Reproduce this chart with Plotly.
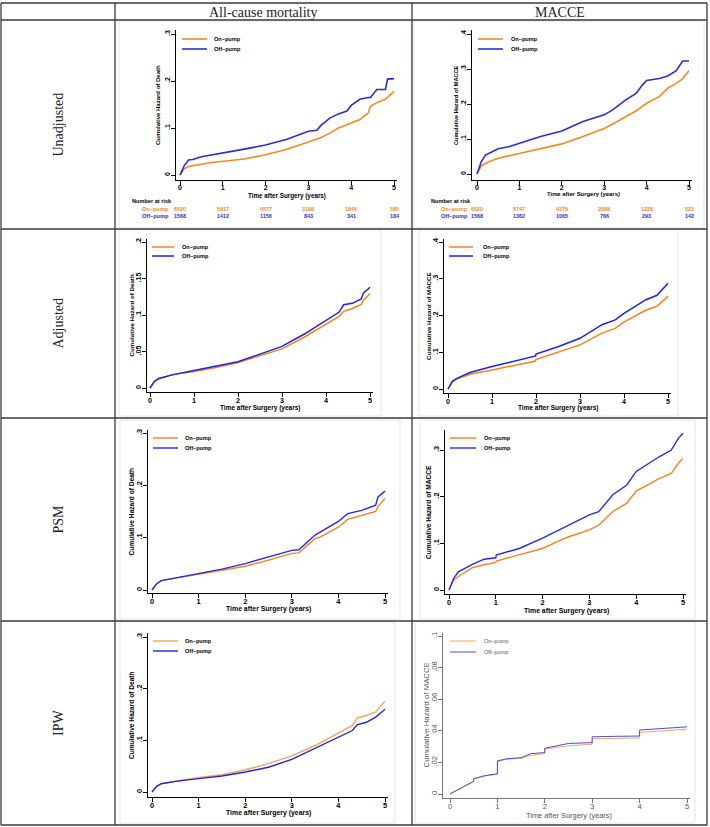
import plotly.graph_objects as go

W, H = 710, 827

# ---------------- data ----------------
row_labels = ["Unadjusted", "Adjusted", "PSM", "IPW"]
col_labels = ["All-cause mortality", "MACCE"]
series_names = ["On–pump", "Off–pump"]

# Unadjusted, all-cause mortality
mort_unadj_t = [0, 0.05, 0.1, 0.2, 0.3, 0.5, 0.7, 1, 1.5, 2, 2.3, 2.5, 3, 3.2, 3.3, 3.5, 3.7, 3.9, 4, 4.2, 4.4, 4.45, 4.6, 4.8, 4.85, 5]
mort_unadj_on = [0, 0.008, 0.013, 0.018, 0.020, 0.023, 0.026, 0.029, 0.034, 0.043, 0.050, 0.055, 0.070, 0.076, 0.080, 0.089, 0.100, 0.107, 0.111, 0.118, 0.132, 0.146, 0.154, 0.161, 0.165, 0.178]
mort_unadj_off = [0, 0.012, 0.020, 0.032, 0.033, 0.039, 0.042, 0.048, 0.055, 0.064, 0.072, 0.076, 0.093, 0.095, 0.106, 0.121, 0.130, 0.136, 0.148, 0.161, 0.165, 0.165, 0.182, 0.182, 0.204, 0.205]

# Unadjusted, MACCE
macce_unadj_t = [0, 0.1, 0.2, 0.3, 0.5, 0.75, 1, 1.5, 2, 2.5, 3, 3.2, 3.5, 3.75, 3.9, 4, 4.3, 4.5, 4.7, 4.85, 4.9, 5]
macce_unadj_on = [0, 0.023, 0.030, 0.036, 0.045, 0.052, 0.059, 0.071, 0.086, 0.107, 0.130, 0.143, 0.164, 0.180, 0.193, 0.202, 0.221, 0.245, 0.259, 0.272, 0.280, 0.295]
macce_unadj_off = [0, 0.035, 0.054, 0.060, 0.072, 0.078, 0.088, 0.107, 0.123, 0.150, 0.169, 0.183, 0.211, 0.230, 0.254, 0.267, 0.273, 0.280, 0.295, 0.323, 0.323, 0.323]

# Adjusted, all-cause mortality
mort_adj_t = [0, 0.05, 0.1, 0.2, 0.5, 1, 1.5, 2, 2.5, 3, 3.5, 4, 4.3, 4.4, 4.6, 4.8, 4.85, 5]
mort_adj_on = [0, 0.005, 0.009, 0.0127, 0.018, 0.0227, 0.028, 0.035, 0.0445, 0.0536, 0.0695, 0.0877, 0.098, 0.105, 0.109, 0.1145, 0.120, 0.1295]
mort_adj_off = [0, 0.005, 0.009, 0.013, 0.018, 0.024, 0.0295, 0.036, 0.0464, 0.057, 0.0736, 0.093, 0.104, 0.114, 0.116, 0.122, 0.130, 0.138]

# Adjusted, MACCE
macce_adj_t = [0, 0.1, 0.2, 0.5, 1, 1.5, 1.99, 2, 2.5, 3, 3.5, 3.8, 4, 4.5, 4.75, 5]
macce_adj_on = [0, 0.020, 0.027, 0.040, 0.052, 0.065, 0.076, 0.080, 0.100, 0.120, 0.152, 0.165, 0.182, 0.215, 0.225, 0.252]
macce_adj_off = [0, 0.021, 0.029, 0.045, 0.061, 0.075, 0.090, 0.095, 0.115, 0.138, 0.175, 0.188, 0.206, 0.243, 0.255, 0.288]

# PSM, all-cause mortality
mort_psm_t = [0, 0.05, 0.1, 0.2, 0.5, 1, 1.5, 2, 2.5, 3, 3.15, 3.5, 3.6, 4, 4.2, 4.5, 4.8, 4.85, 5]
mort_psm_on = [0, 0.007, 0.012, 0.018, 0.0227, 0.0305, 0.037, 0.0454, 0.057, 0.070, 0.071, 0.098, 0.101, 0.120, 0.135, 0.1425, 0.150, 0.160, 0.175]
mort_psm_off = [0, 0.007, 0.012, 0.018, 0.023, 0.0324, 0.040, 0.0505, 0.063, 0.0758, 0.077, 0.105, 0.110, 0.131, 0.146, 0.152, 0.162, 0.178, 0.189]

# PSM, MACCE
macce_psm_t = [0, 0.1, 0.2, 0.5, 0.75, 1, 1.01, 1.5, 2, 2.5, 3, 3.2, 3.5, 3.8, 4, 4.5, 4.75, 4.9, 5]
macce_psm_on = [0, 0.021, 0.029, 0.048, 0.054, 0.059, 0.062, 0.075, 0.089, 0.112, 0.129, 0.139, 0.168, 0.186, 0.212, 0.239, 0.250, 0.271, 0.282]
macce_psm_off = [0, 0.025, 0.039, 0.055, 0.066, 0.069, 0.075, 0.089, 0.111, 0.136, 0.161, 0.168, 0.204, 0.225, 0.254, 0.286, 0.300, 0.325, 0.336]

# IPW, all-cause mortality
mort_ipw_t = [0, 0.05, 0.1, 0.2, 0.5, 1, 1.5, 2, 2.5, 3, 3.5, 4, 4.3, 4.4, 4.6, 4.8, 5]
mort_ipw_on = [0, 0.006, 0.011, 0.016, 0.021, 0.028, 0.0335, 0.043, 0.055, 0.070, 0.090, 0.115, 0.129, 0.143, 0.148, 0.155, 0.176]
mort_ipw_off = [0, 0.006, 0.011, 0.016, 0.0205, 0.026, 0.031, 0.0387, 0.048, 0.063, 0.084, 0.105, 0.119, 0.130, 0.135, 0.145, 0.160]

# IPW, MACCE
macce_ipw_t = [0, 0.5, 0.5, 0.75, 1, 1, 1.2, 1.5, 1.7, 2, 2, 2.25, 2.5, 3, 3, 3.5, 4, 4, 4.5, 5]
macce_ipw_on = [0, 0.008, 0.0095, 0.0115, 0.0125, 0.0205, 0.022, 0.0225, 0.0245, 0.0255, 0.0285, 0.0295, 0.0305, 0.0315, 0.0350, 0.0352, 0.0355, 0.0390, 0.0400, 0.0410]
macce_ipw_off = [0, 0.008, 0.0097, 0.0117, 0.0128, 0.0210, 0.0223, 0.0230, 0.0255, 0.0262, 0.0290, 0.0305, 0.0320, 0.0325, 0.0362, 0.0365, 0.0367, 0.0405, 0.0413, 0.0425]

# Number at risk (unadjusted row)
risk_times = [0, 1, 2, 3, 4, 5]
mort_risk_on = [6520, 5917, 4577, 3198, 1846, 585]
mort_risk_off = [1568, 1412, 1156, 843, 341, 184]
macce_risk_on = [6520, 5747, 4379, 2988, 1228, 523]
macce_risk_off = [1568, 1362, 1065, 766, 293, 142]

x_ticks = [0, 1, 2, 3, 4, 5]
y_ticks_03 = [0, 0.1, 0.2, 0.3]
y_ticks_04 = [0, 0.1, 0.2, 0.3, 0.4]
y_ticks_02 = [0, 0.05, 0.1, 0.15, 0.2]
y_ticks_01 = [0, 0.02, 0.04, 0.06, 0.08, 0.1]


def stata_lbl(v):
    s = ("%g" % v)
    return s[1:] if s.startswith("0.") else s


# ---------------- layout geometry (pixels) ----------------
SANS = "Liberation Sans"
SERIF = "Liberation Serif"

panels = [
    dict(t=mort_unadj_t, on=mort_unadj_on, off=mort_unadj_off, yt=y_ticks_03, ytitle="Cumulative Hazard of Death",
         x0=180, x5=394, yl=176, y0=175, ytp=34, ytop=30, xl=180, fs=6.0, tfs=7.0, lw=1.6,
         leg=(182, 207, 212, 39, 49), ytx=158, xty=196, frame=(119, 21, 411, 228),
         oc="#F28A1E", bc="#2B2BD9", gray=False),
    dict(t=macce_unadj_t, on=macce_unadj_on, off=macce_unadj_off, yt=y_ticks_04, ytitle="Cumulative Hazard of MACCE",
         x0=477, x5=689, yl=472, y0=174, ytp=34, ytop=30, xl=180, fs=5.6, tfs=7.0, lw=1.6,
         leg=(478, 503, 509, 39, 49), ytx=456, xty=194, frame=(414, 21, 704, 228),
         oc="#F28A1E", bc="#2B2BD9", gray=False),
    dict(t=mort_adj_t, on=mort_adj_on, off=mort_adj_off, yt=y_ticks_02, ytitle="Cumulative Hazard of Death",
         x0=150, x5=370, yl=147, y0=388, ytp=242, ytop=239, xl=392, fs=6.2, tfs=7.2, lw=1.5,
         leg=(152, 174, 180, 247, 256), ytx=131, xty=408, frame=(119, 230, 381, 416),
         oc="#F5841A", bc="#2020E0", gray=False),
    dict(t=macce_adj_t, on=macce_adj_on, off=macce_adj_off, yt=y_ticks_04, ytitle="Cumulative Hazard of MACCE",
         x0=448, x5=668, yl=444, y0=389, ytp=242, ytop=239, xl=393, fs=6.2, tfs=7.2, lw=1.5,
         leg=(449, 473, 481, 247, 256), ytx=428, xty=408, frame=(419, 230, 678, 416),
         oc="#F5841A", bc="#2020E0", gray=False),
    dict(t=mort_psm_t, on=mort_psm_on, off=mort_psm_off, yt=y_ticks_03, ytitle="Cumulative Hazard of Death",
         x0=152, x5=385, yl=148, y0=590, ytp=433, ytop=430, xl=593, fs=6.6, tfs=7.4, lw=1.4,
         leg=(153, 178, 183, 438, 448), ytx=131, xty=609, frame=(120, 420, 400, 619),
         oc="#F5841A", bc="#2929E6", gray=False),
    dict(t=macce_psm_t, on=macce_psm_on, off=macce_psm_off, yt=y_ticks_03, ytitle="Cumulative Hazard of MACCE",
         x0=449, x5=683, yl=445, y0=590, ytp=450, ytop=430, xl=594, fs=6.6, tfs=7.4, lw=1.4,
         leg=(450, 476, 482, 438, 448), ytx=428, xty=611, frame=(420, 420, 695, 619),
         oc="#F5841A", bc="#2929E6", gray=False),
    dict(t=mort_ipw_t, on=mort_ipw_on, off=mort_ipw_off, yt=y_ticks_03, ytitle="Cumulative Hazard of Death",
         x0=152, x5=385, yl=148, y0=792, ytp=637, ytop=633, xl=797, fs=6.6, tfs=7.4, lw=1.4,
         leg=(153, 178, 183, 641, 651), ytx=131, xty=813, frame=(120, 622, 395, 823),
         oc="#F6A65A", bc="#2323DE", gray=False),
    dict(t=macce_ipw_t, on=macce_ipw_on, off=macce_ipw_off, yt=y_ticks_01, ytitle="Cumulative Hazard of MACCE",
         x0=450, x5=687, yl=443, y0=794, ytp=636, ytop=633, xl=798, fs=7.4, tfs=7.6, lw=1.0,
         leg=(450, 476, 482, 641, 652), ytx=426, xty=815, frame=(415, 622, 695, 823),
         oc="#F5A560", bc="#4B4BE0", gray=True),
]

fig = go.Figure()
layout = dict(width=W, height=H, margin=dict(l=0, r=0, t=0, b=0),
              paper_bgcolor="white", plot_bgcolor="white", showlegend=False)
shapes = []
annotations = []


def fx(p):
    return p / W


def fy(p):
    return 1 - p / H


for i, p in enumerate(panels, start=1):
    sx = (p["x5"] - p["x0"]) / 5.0
    ytv = p["yt"][-1]
    sy = (p["y0"] - p["ytp"]) / ytv
    xend = p["x5"] + 3
    xr = [(p["yl"] - p["x0"]) / sx, 5 + (xend - p["x5"]) / sx]
    yr = [-(p["xl"] - p["y0"]) / sy, ytv + (p["ytp"] - p["ytop"]) / sy]
    tcol = "#555555" if p["gray"] else "black"
    acol = "#777777" if p["gray"] else "black"
    weight = "normal" if p["gray"] else "bold"
    sfx = "" if i == 1 else str(i)

    layout["xaxis" + sfx] = dict(domain=[fx(p["yl"]), fx(xend)], range=xr, anchor="y" + sfx,
                                 showgrid=False, zeroline=False, showline=True, linecolor=acol, linewidth=1,
                                 ticks="outside", ticklen=4, tickwidth=1, tickcolor=acol,
                                 tickvals=x_ticks, ticktext=[str(v) for v in x_ticks], ticklabelstandoff=-3,
                                 tickfont=dict(family=SANS, size=p["tfs"], color=tcol, weight=weight),
                                 fixedrange=True)
    layout["yaxis" + sfx] = dict(domain=[fy(p["xl"]), fy(p["ytop"])], range=yr, anchor="x" + sfx,
                                 showgrid=False, zeroline=False, showline=True, linecolor=acol, linewidth=1,
                                 ticks="outside", ticklen=4, tickwidth=1, tickcolor=acol,
                                 tickvals=p["yt"], ticktext=[stata_lbl(v) for v in p["yt"]], tickangle=-90,
                                 ticklabelstandoff=-2,
                                 tickfont=dict(family=SANS, size=p["tfs"], color=tcol, weight=weight),
                                 fixedrange=True)

    xa, ya = "x" + sfx, "y" + sfx
    fig.add_trace(go.Scatter(x=p["t"], y=p["on"], mode="lines", name=series_names[0],
                             line=dict(color=p["oc"], width=p["lw"]), xaxis=xa, yaxis=ya))
    fig.add_trace(go.Scatter(x=p["t"], y=p["off"], mode="lines", name=series_names[1],
                             line=dict(color=p["bc"], width=p["lw"]), xaxis=xa, yaxis=ya))

    # graph-region frame (faint)
    fl, ft, fr, fb = p["frame"]
    shapes.append(dict(type="rect", xref="paper", yref="paper", x0=fx(fl), x1=fx(fr), y0=fy(fb), y1=fy(ft),
                       line=dict(color="#E1E7EC", width=1), fillcolor="rgba(0,0,0,0)", layer="below"))

    # axis titles
    annotations.append(dict(text=p["ytitle"], xref="paper", yref="paper", x=fx(p["ytx"]),
                            y=(fy(p["xl"]) + fy(p["ytop"])) / 2, textangle=-90, showarrow=False,
                            xanchor="center", yanchor="middle",
                            font=dict(family=SANS, size=p["fs"] + (0.4 if p["gray"] else 0), color=tcol, weight=weight)))
    annotations.append(dict(text="Time after Surgery (years)", xref=xa, yref="paper", x=2.5, y=fy(p["xty"]),
                            showarrow=False, xanchor="center", yanchor="middle",
                            font=dict(family=SANS, size=p["fs"] + (0.0 if p["gray"] else 0.3), color=tcol, weight=weight)))

    # legend (drawn by hand inside the plot region)
    lx0, lx1, ltx, ly1, ly2 = p["leg"]
    for (ly, col, nm) in [(ly1, p["oc"], series_names[0]), (ly2, p["bc"], series_names[1])]:
        shapes.append(dict(type="line", xref="paper", yref="paper", x0=fx(lx0), x1=fx(lx1), y0=fy(ly), y1=fy(ly),
                           line=dict(color=col, width=p["lw"])))
        annotations.append(dict(text=nm, xref="paper", yref="paper", x=fx(ltx), y=fy(ly), showarrow=False,
                                xanchor="left", yanchor="middle",
                                font=dict(family=SANS, size=5.6, color=tcol, weight=weight)))

# number-at-risk tables (unadjusted row)
for sfx, lbl_x, hdr_x, ron, roff in [("", 171, 130, mort_risk_on, mort_risk_off),
                                     ("2", 470, 429, macce_risk_on, macce_risk_off)]:
    xa = "x" + sfx
    annotations.append(dict(text="Number at risk", xref="paper", yref="paper", x=fx(hdr_x), y=fy(201),
                            showarrow=False, xanchor="left", yanchor="middle",
                            font=dict(family=SANS, size=5.6, color="black", weight="bold")))
    for ly, col, nm, vals in [(209, "#F28A1E", series_names[0], ron), (216, "#2B2BD9", series_names[1], roff)]:
        annotations.append(dict(text=nm, xref="paper", yref="paper", x=fx(lbl_x), y=fy(ly),
                                showarrow=False, xanchor="right", yanchor="middle",
                                font=dict(family=SANS, size=5.6, color=col, weight="bold")))
        for tv, n in zip(risk_times, vals):
            annotations.append(dict(text=str(n), xref=xa, yref="paper", x=tv, y=fy(ly), showarrow=False,
                                    xanchor="center", yanchor="middle",
                                    font=dict(family=SANS, size=5.4, color=col, weight="bold")))

# table grid
grid_col = "#3A3A3A"
v_lines = [1, 115, 412, 707]
h_lines = [3, 20, 229, 418, 621, 825]
for vx in v_lines:
    shapes.append(dict(type="line", xref="paper", yref="paper", x0=fx(vx), x1=fx(vx), y0=fy(h_lines[-1]),
                       y1=fy(h_lines[0]), line=dict(color=grid_col, width=1.3)))
for hy in h_lines:
    shapes.append(dict(type="line", xref="paper", yref="paper", x0=fx(v_lines[0]), x1=fx(v_lines[-1]),
                       y0=fy(hy), y1=fy(hy), line=dict(color=grid_col, width=1.3)))

# header and row labels
col_centers = [263, 560]
for c, lab in zip(col_centers, col_labels):
    annotations.append(dict(text=lab, xref="paper", yref="paper", x=fx(c), y=fy(12), showarrow=False,
                            xanchor="center", yanchor="middle", font=dict(family=SERIF, size=14, color="#222")))
for k, lab in enumerate(row_labels):
    cy = (h_lines[k + 1] + h_lines[k + 2]) / 2
    annotations.append(dict(text=lab, xref="paper", yref="paper", x=fx(58), y=fy(cy), showarrow=False,
                            textangle=-90, xanchor="center", yanchor="middle",
                            font=dict(family=SERIF, size=14, color="#222")))

layout["shapes"] = shapes
layout["annotations"] = annotations
fig.update_layout(**layout)
fig.write_html("out.html", config={"displayModeBar": False},
               post_script="document.body.style.margin='0';document.body.style.padding='0';"
                           "document.body.style.overflow='hidden';")
